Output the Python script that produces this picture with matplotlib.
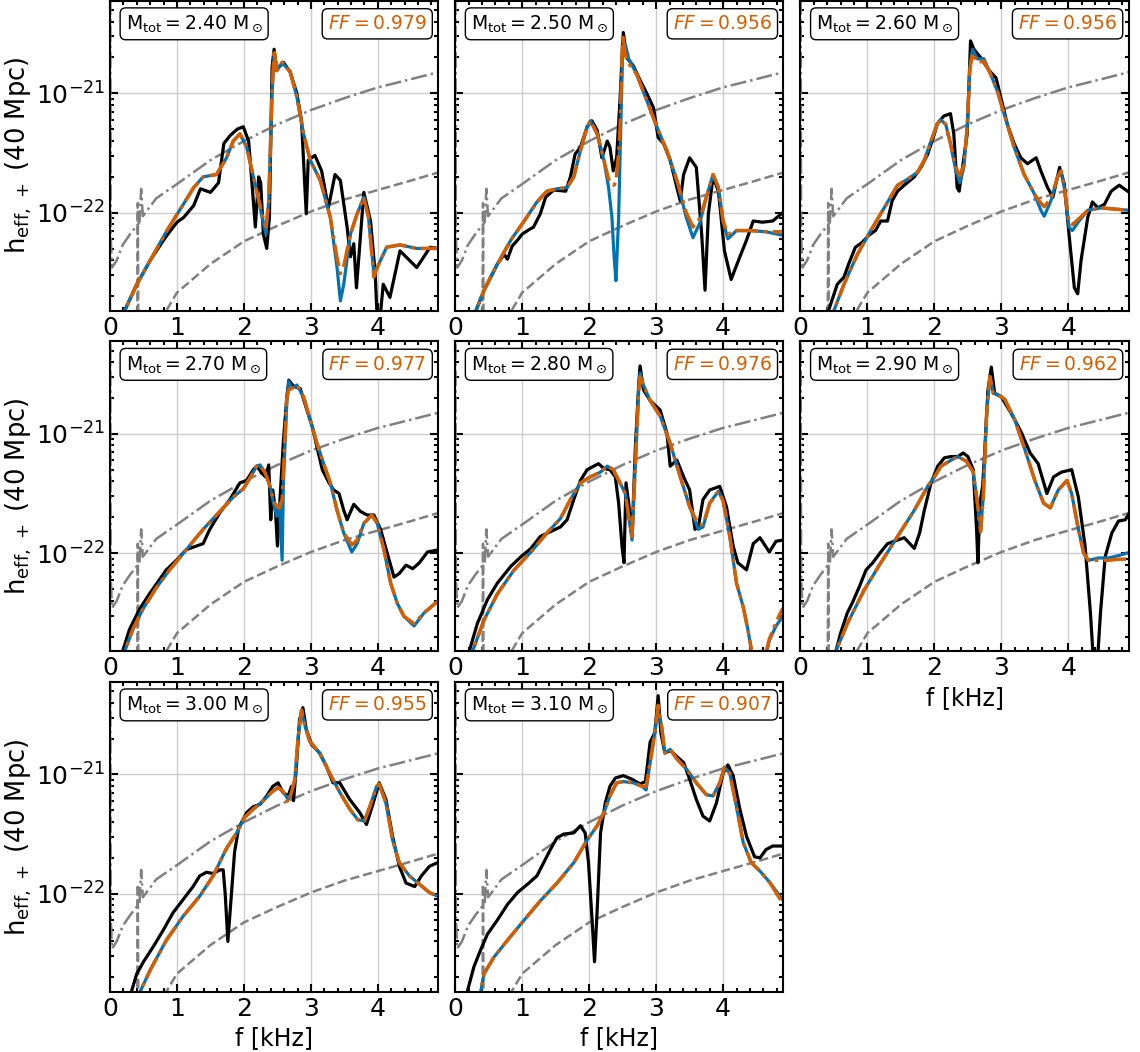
import numpy as np
import matplotlib.pyplot as plt
from matplotlib.ticker import MultipleLocator, LogLocator, NullFormatter, FixedLocator

plt.rcParams['mathtext.fontset'] = 'dejavusans'
plt.rcParams['font.family'] = ['DejaVu Sans']

# masas totales y fitting factors de cada panel
masas = [2.40, 2.50, 2.60, 2.70, 2.80, 2.90, 3.00, 3.10]
ff = [0.979, 0.956, 0.956, 0.977, 0.976, 0.962, 0.955, 0.907]

# curvas de sensibilidad (log10 h), iguales en todos los paneles
f_sens_a = [0.002, 0.01, 0.03, 0.10, 0.19, 0.30, 0.44, 0.465, 0.49, 0.69, 1.0, 1.5, 2.0, 2.5, 3.0, 3.5, 4.0, 4.5, 4.92]
lh_sens_a = [-19.8, -22.2, -22.46, -22.40, -22.27, -22.18, -22.08, -21.80, -22.03, -21.88, -21.76, -21.56, -21.40,
             -21.26, -21.14, -21.04, -20.95, -20.88, -20.82]
f_sens_b = [0.2, 0.405, 0.415, 0.425, 0.6, 0.82, 1.0, 1.5, 2.0, 2.5, 3.0, 3.5, 4.0, 4.5, 4.92]
lh_sens_b = [-23.5, -23.2, -21.92, -23.2, -23.05, -22.84, -22.67, -22.43, -22.24, -22.11, -21.99, -21.89, -21.81,
             -21.73, -21.66]

# ---------- panel 1: 2.40 ----------
bk_f1 = [0.15, 0.22, 0.40, 0.60, 0.80, 0.85, 1.00, 1.10, 1.25, 1.35, 1.50, 1.62, 1.70, 1.80, 1.90, 1.99, 2.07, 2.14,
         2.17, 2.22, 2.25, 2.29, 2.34, 2.38, 2.42, 2.45, 2.49, 2.59, 2.69, 2.79, 2.86, 2.93, 2.96, 3.06, 3.16, 3.26,
         3.36, 3.44, 3.54, 3.59, 3.64, 3.68, 3.79, 3.89, 3.96, 3.99, 4.03, 4.08, 4.18, 4.33, 4.58, 4.78, 4.90]
bk_h1 = [-23.0, -22.82, -22.60, -22.40, -22.23, -22.19, -22.08, -22.04, -21.94, -21.80, -21.83, -21.75, -21.42, -21.35,
         -21.30, -21.28, -21.40, -21.90, -22.12, -21.70, -21.75, -22.18, -22.30, -22.04, -20.78, -20.63, -20.80, -20.74,
         -20.82, -21.00, -21.23, -22.01, -21.56, -21.52, -21.65, -21.96, -21.68, -21.73, -22.12, -22.37, -22.26, -22.63,
         -21.83, -22.07, -22.51, -22.9, -22.9, -22.60, -22.71, -22.32, -22.46, -22.29, -22.30]
bl_f1 = [0.15, 0.22, 0.40, 0.65, 0.85, 1.05, 1.25, 1.39, 1.59, 1.74, 1.84, 1.94, 2.04, 2.19, 2.29, 2.33, 2.37, 2.42,
         2.45, 2.49, 2.57, 2.69, 2.79, 2.89, 2.99, 3.14, 3.29, 3.39, 3.44, 3.49, 3.59, 3.69, 3.79, 3.86, 3.94, 3.99,
         4.13, 4.33, 4.58, 4.90]
bl_h1 = [-23.0, -22.82, -22.60, -22.35, -22.15, -21.97, -21.79, -21.70, -21.68, -21.54, -21.40, -21.34, -21.45, -21.82,
         -22.09, -22.18, -21.90, -21.00, -20.67, -20.81, -20.74, -20.82, -21.03, -21.34, -21.56, -21.73, -22.04, -22.46,
         -22.74, -22.60, -22.18, -22.01, -21.87, -22.04, -22.51, -22.46, -22.29, -22.27, -22.30, -22.30]
or_f1 = bl_f1
or_h1 = [-23.0, -22.82, -22.60, -22.35, -22.15, -21.97, -21.79, -21.70, -21.68, -21.54, -21.40, -21.34, -21.45, -21.82,
         -22.05, -22.12, -21.90, -21.00, -20.63, -20.81, -20.74, -20.82, -21.03, -21.34, -21.56, -21.73, -22.04, -22.38,
         -22.51, -22.45, -22.18, -22.01, -21.87, -22.04, -22.54, -22.46, -22.29, -22.27, -22.30, -22.30]

# ---------- panel 2: 2.50 ----------
bk_f2 = [0.25, 0.31, 0.43, 0.63, 0.73, 0.78, 0.85, 0.93, 1.00, 1.08, 1.17, 1.27, 1.35, 1.47, 1.65, 1.72, 1.79, 1.87,
         1.97, 2.04, 2.12, 2.19, 2.27, 2.31, 2.36, 2.41, 2.46, 2.51, 2.56, 2.66, 2.76, 2.86, 2.96, 3.03, 3.11, 3.21,
         3.31, 3.36, 3.41, 3.50, 3.60, 3.68, 3.73, 3.78, 3.85, 3.93, 4.02, 4.12, 4.25, 4.35, 4.45, 4.59, 4.74, 4.89]
bk_h2 = [-23.0, -22.82, -22.65, -22.43, -22.35, -22.39, -22.28, -22.23, -22.18, -22.15, -22.12, -22.01, -21.87, -21.81,
         -21.82, -21.70, -21.51, -21.45, -21.28, -21.23, -21.31, -21.54, -21.40, -21.45, -21.65, -21.54, -21.06, -20.49,
         -20.70, -20.77, -20.89, -21.00, -21.12, -21.37, -21.42, -21.56, -21.79, -21.90, -21.68, -21.54, -21.62, -22.18,
         -22.65, -22.01, -21.70, -21.82, -22.32, -22.56, -22.37, -22.23, -22.07, -22.08, -22.07, -22.00]
bl_f2 = [0.25, 0.31, 0.43, 0.63, 0.83, 1.03, 1.22, 1.37, 1.52, 1.67, 1.77, 1.87, 1.97, 2.02, 2.12, 2.22, 2.29, 2.34,
         2.37, 2.40, 2.44, 2.46, 2.50, 2.54, 2.59, 2.71, 2.86, 3.01, 3.16, 3.31, 3.45, 3.55, 3.65, 3.75, 3.85, 3.93,
         4.00, 4.07, 4.20, 4.40, 4.64, 4.89]
bl_h2 = [-23.0, -22.82, -22.65, -22.43, -22.23, -22.07, -21.91, -21.82, -21.80, -21.79, -21.70, -21.48, -21.28, -21.23,
         -21.34, -21.56, -21.79, -22.04, -22.35, -22.57, -22.04, -21.56, -20.64, -20.59, -20.71, -20.84, -21.06, -21.28,
         -21.48, -21.73, -22.04, -22.21, -22.09, -21.87, -21.68, -21.79, -22.07, -22.22, -22.15, -22.15, -22.16, -22.19]
or_f2 = bl_f2
or_h2 = [-23.0, -22.82, -22.65, -22.43, -22.23, -22.07, -21.91, -21.82, -21.80, -21.79, -21.70, -21.48, -21.28, -21.23,
         -21.34, -21.56, -21.72, -21.74, -21.77, -21.74, -21.50, -21.30, -20.50, -20.68, -20.75, -20.84, -21.06, -21.28,
         -21.48, -21.73, -22.00, -22.12, -22.05, -21.87, -21.68, -21.79, -22.07, -22.18, -22.15, -22.15, -22.16, -22.16]

# ---------- panel 3: 2.60 ----------
bk_f3 = [0.38, 0.42, 0.55, 0.65, 0.72, 0.82, 0.92, 1.02, 1.12, 1.20, 1.30, 1.37, 1.45, 1.55, 1.70, 1.80, 1.90, 2.00,
         2.04, 2.14, 2.24, 2.29, 2.34, 2.37, 2.42, 2.49, 2.54, 2.59, 2.69, 2.82, 2.92, 2.99, 3.09, 3.19, 3.29, 3.39,
         3.52, 3.59, 3.69, 3.77, 3.87, 3.94, 4.01, 4.09, 4.14, 4.19, 4.29, 4.36, 4.44, 4.54, 4.64, 4.76, 4.91]
bk_h3 = [-23.0, -22.82, -22.60, -22.54, -22.43, -22.29, -22.25, -22.19, -22.15, -22.07, -22.07, -21.90, -21.82, -21.77,
         -21.70, -21.62, -21.51, -21.34, -21.26, -21.19, -21.17, -21.34, -21.79, -21.82, -21.62, -21.34, -20.56, -20.63,
         -20.70, -20.81, -20.87, -21.03, -21.26, -21.42, -21.54, -21.59, -21.54, -21.65, -21.79, -21.87, -21.62, -21.76,
         -22.18, -22.63, -22.68, -22.40, -22.04, -21.91, -21.96, -21.93, -21.82, -21.77, -21.83]
bl_f3 = [0.45, 0.50, 0.65, 0.85, 1.05, 1.25, 1.45, 1.60, 1.75, 1.85, 1.95, 2.04, 2.09, 2.17, 2.24, 2.32, 2.38, 2.44,
         2.49, 2.53, 2.57, 2.64, 2.74, 2.84, 2.94, 3.04, 3.19, 3.34, 3.49, 3.59, 3.64, 3.74, 3.84, 3.89, 3.94, 4.01,
         4.06, 4.16, 4.29, 4.49, 4.69, 4.91]
bl_h3 = [-23.0, -22.82, -22.60, -22.35, -22.15, -21.96, -21.77, -21.72, -21.66, -21.56, -21.40, -21.26, -21.22, -21.26,
         -21.42, -21.65, -21.75, -21.62, -21.28, -20.78, -20.63, -20.71, -20.71, -20.84, -20.98, -21.17, -21.45, -21.68,
         -21.84, -21.98, -22.03, -21.90, -21.70, -21.65, -21.79, -22.12, -22.15, -22.07, -21.98, -21.96, -21.97, -21.98]
or_f3 = bl_f3
or_h3 = [-23.0, -22.82, -22.60, -22.35, -22.15, -21.96, -21.77, -21.72, -21.66, -21.56, -21.40, -21.26, -21.22, -21.26,
         -21.42, -21.62, -21.69, -21.60, -21.28, -20.80, -20.66, -20.74, -20.73, -20.84, -20.98, -21.17, -21.45, -21.68,
         -21.84, -21.92, -21.95, -21.88, -21.70, -21.65, -21.79, -22.08, -22.10, -22.05, -21.98, -21.96, -21.97, -21.98]

# ---------- panel 4: 2.70 ----------
bk_f4 = [0.14, 0.19, 0.29, 0.44, 0.59, 0.74, 0.84, 0.99, 1.14, 1.29, 1.39, 1.49, 1.64, 1.79, 1.94, 2.04, 2.14, 2.19,
         2.27, 2.32, 2.37, 2.40, 2.43, 2.47, 2.50, 2.54, 2.59, 2.64, 2.67, 2.74, 2.84, 2.94, 3.02, 3.09, 3.17, 3.27,
         3.34, 3.42, 3.49, 3.54, 3.64, 3.74, 3.84, 3.94, 4.04, 4.14, 4.24, 4.32, 4.42, 4.52, 4.62, 4.74, 4.92]
bk_h4 = [-23.0, -22.82, -22.64, -22.47, -22.34, -22.22, -22.14, -22.06, -21.97, -21.94, -21.92, -21.80, -21.66, -21.55,
         -21.41, -21.39, -21.30, -21.27, -21.33, -21.36, -21.26, -21.72, -21.47, -21.64, -21.94, -21.53, -21.05, -20.69,
         -20.55, -20.60, -20.62, -20.80, -20.94, -21.11, -21.30, -21.41, -21.47, -21.50, -21.64, -21.72, -21.59, -21.65,
         -21.68, -21.68, -21.80, -22.00, -22.20, -22.17, -22.10, -22.13, -22.08, -21.99, -21.97]
bl_f4 = [0.17, 0.22, 0.34, 0.49, 0.69, 0.89, 1.14, 1.39, 1.64, 1.84, 1.99, 2.09, 2.19, 2.24, 2.32, 2.39, 2.44, 2.49,
         2.53, 2.57, 2.59, 2.64, 2.67, 2.71, 2.79, 2.89, 2.99, 3.09, 3.19, 3.29, 3.39, 3.49, 3.61, 3.69, 3.79, 3.91,
         3.99, 4.09, 4.19, 4.29, 4.39, 4.54, 4.69, 4.92]
bl_h4 = [-23.0, -22.82, -22.64, -22.47, -22.29, -22.14, -21.97, -21.80, -21.65, -21.53, -21.46, -21.37, -21.27, -21.26,
         -21.33, -21.44, -21.58, -21.69, -21.58, -22.06, -21.39, -20.74, -20.56, -20.62, -20.59, -20.69, -20.88, -21.08,
         -21.25, -21.41, -21.64, -21.83, -21.99, -21.92, -21.75, -21.68, -21.75, -21.97, -22.25, -22.42, -22.53, -22.61,
         -22.50, -22.39]
or_f4 = bl_f4
or_h4 = [-23.0, -22.82, -22.64, -22.47, -22.29, -22.14, -21.97, -21.80, -21.65, -21.53, -21.46, -21.37, -21.27, -21.26,
         -21.33, -21.44, -21.56, -21.61, -21.62, -21.55, -21.30, -20.70, -20.63, -20.62, -20.59, -20.69, -20.88, -21.08,
         -21.25, -21.41, -21.64, -21.83, -21.93, -21.89, -21.75, -21.68, -21.75, -21.97, -22.25, -22.42, -22.53, -22.59,
         -22.50, -22.39]

# ---------- panel 5: 2.80 ----------
bk_f5 = [0.16, 0.21, 0.33, 0.48, 0.63, 0.73, 0.83, 0.98, 1.13, 1.27, 1.42, 1.57, 1.67, 1.77, 1.87, 1.97, 2.07, 2.14,
         2.22, 2.31, 2.39, 2.44, 2.49, 2.52, 2.55, 2.59, 2.64, 2.69, 2.74, 2.76, 2.81, 2.91, 3.06, 3.16, 3.21, 3.31,
         3.41, 3.50, 3.58, 3.63, 3.70, 3.80, 3.95, 4.05, 4.15, 4.22, 4.35, 4.45, 4.55, 4.69, 4.79, 4.89]
bk_h5 = [-23.0, -22.82, -22.59, -22.39, -22.25, -22.18, -22.11, -22.03, -21.96, -21.86, -21.82, -21.78, -21.72, -21.55,
         -21.39, -21.30, -21.27, -21.25, -21.29, -21.30, -21.36, -21.58, -21.94, -22.08, -21.41, -21.58, -21.86, -21.11,
         -20.58, -20.43, -20.63, -20.72, -20.80, -20.99, -21.27, -21.22, -21.36, -21.47, -21.80, -21.78, -21.55, -21.47,
         -21.44, -21.61, -21.94, -22.08, -22.14, -21.92, -21.87, -21.99, -21.90, -21.89]
bl_f5 = [0.21, 0.26, 0.43, 0.63, 0.88, 1.13, 1.37, 1.57, 1.72, 1.87, 2.02, 2.17, 2.27, 2.36, 2.46, 2.54, 2.59, 2.64,
         2.69, 2.74, 2.76, 2.81, 2.91, 3.06, 3.21, 3.36, 3.50, 3.63, 3.70, 3.80, 3.93, 4.00, 4.10, 4.20, 4.30, 4.37,
         4.45, 4.62, 4.69, 4.79, 4.89]
bl_h5 = [-23.0, -22.82, -22.56, -22.34, -22.14, -21.99, -21.83, -21.71, -21.55, -21.41, -21.36, -21.32, -21.27, -21.30,
         -21.41, -21.50, -21.69, -21.89, -21.25, -20.63, -20.49, -20.59, -20.72, -20.85, -21.08, -21.36, -21.61, -21.80,
         -21.78, -21.58, -21.48, -21.56, -21.86, -22.25, -22.45, -22.64, -22.9, -22.9, -22.73, -22.61, -22.53]
or_f5 = bl_f5
or_h5 = [-23.0, -22.82, -22.56, -22.34, -22.14, -21.99, -21.83, -21.71, -21.55, -21.41, -21.36, -21.32, -21.27, -21.30,
         -21.41, -21.50, -21.69, -21.86, -21.25, -20.63, -20.52, -20.59, -20.72, -20.85, -21.08, -21.36, -21.61, -21.76,
         -21.76, -21.58, -21.48, -21.56, -21.86, -22.25, -22.45, -22.64, -22.9, -22.88, -22.72, -22.58, -22.46]

# ---------- panel 6: 2.90 ----------
bk_f6 = [0.48, 0.53, 0.60, 0.70, 0.78, 0.88, 0.98, 1.08, 1.20, 1.30, 1.40, 1.55, 1.65, 1.70, 1.78, 1.85, 1.95, 2.05,
         2.15, 2.25, 2.35, 2.43, 2.50, 2.58, 2.63, 2.65, 2.68, 2.72, 2.75, 2.80, 2.85, 2.90, 3.00, 3.15, 3.30, 3.43,
         3.55, 3.68, 3.78, 3.90, 4.05, 4.15, 4.25, 4.33, 4.38, 4.43, 4.48, 4.55, 4.65, 4.75, 4.85, 4.93]
bk_h6 = [-23.0, -22.82, -22.67, -22.50, -22.41, -22.28, -22.14, -22.08, -21.99, -21.92, -21.90, -21.87, -21.93, -21.96,
         -21.83, -21.64, -21.41, -21.27, -21.20, -21.19, -21.19, -21.16, -21.19, -21.30, -21.80, -22.08, -21.58, -21.44,
         -21.16, -20.63, -20.44, -20.66, -20.69, -20.83, -20.99, -21.16, -21.25, -21.50, -21.36, -21.32, -21.30, -21.53,
         -21.94, -22.50, -22.95, -22.95, -22.50, -22.03, -21.83, -21.73, -21.72, -21.65]
bl_f6 = [0.48, 0.53, 0.70, 0.95, 1.20, 1.45, 1.70, 1.90, 2.00, 2.10, 2.25, 2.35, 2.48, 2.58, 2.65, 2.69, 2.73, 2.78,
         2.83, 2.88, 2.95, 3.05, 3.20, 3.35, 3.50, 3.63, 3.73, 3.85, 3.98, 4.05, 4.15, 4.23, 4.30, 4.45, 4.60, 4.75,
         4.93]
bl_h6 = [-23.0, -22.82, -22.59, -22.31, -22.08, -21.86, -21.64, -21.44, -21.36, -21.27, -21.22, -21.19, -21.23, -21.32,
         -21.61, -21.80, -21.53, -20.83, -20.52, -20.66, -20.67, -20.71, -20.88, -21.13, -21.39, -21.58, -21.62, -21.47,
         -21.39, -21.50, -21.80, -22.00, -22.06, -22.04, -22.04, -22.02, -21.99]
or_f6 = bl_f6
or_h6 = [-23.0, -22.82, -22.59, -22.31, -22.08, -21.86, -21.64, -21.44, -21.36, -21.27, -21.22, -21.19, -21.23, -21.32,
         -21.61, -21.82, -21.53, -20.83, -20.52, -20.66, -20.67, -20.71, -20.88, -21.13, -21.39, -21.58, -21.62, -21.47,
         -21.39, -21.50, -21.80, -22.00, -22.06, -22.06, -22.06, -22.05, -22.05]

# ---------- panel 7: 3.00 ----------
bk_f7 = [0.27, 0.32, 0.40, 0.50, 0.65, 0.80, 0.94, 1.09, 1.24, 1.34, 1.44, 1.54, 1.64, 1.69, 1.72, 1.76, 1.80, 1.86,
         1.92, 2.04, 2.14, 2.24, 2.34, 2.43, 2.51, 2.58, 2.66, 2.71, 2.74, 2.78, 2.83, 2.88, 2.93, 3.01, 3.13, 3.23,
         3.33, 3.43, 3.58, 3.73, 3.83, 3.93, 4.02, 4.12, 4.22, 4.32, 4.42, 4.55, 4.65, 4.77, 4.89]
bk_h7 = [-23.0, -22.82, -22.67, -22.57, -22.44, -22.30, -22.16, -22.05, -21.94, -21.85, -21.82, -21.83, -21.80, -21.80,
         -22.00, -22.40, -22.10, -21.65, -21.45, -21.32, -21.27, -21.25, -21.18, -21.10, -21.07, -21.15, -21.18, -21.10,
         -21.22, -20.96, -20.54, -20.44, -20.62, -20.75, -20.82, -20.93, -21.07, -21.07, -21.21, -21.32, -21.42, -21.24,
         -21.07, -21.21, -21.52, -21.77, -21.91, -21.94, -21.85, -21.77, -21.74]
bl_f7 = [0.40, 0.45, 0.60, 0.84, 1.09, 1.34, 1.54, 1.74, 1.89, 2.01, 2.14, 2.29, 2.41, 2.51, 2.58, 2.66, 2.71, 2.76,
         2.81, 2.86, 2.91, 2.98, 3.13, 3.28, 3.43, 3.58, 3.70, 3.80, 3.88, 3.98, 4.02, 4.12, 4.22, 4.32, 4.47, 4.62,
         4.77, 4.89]
bl_h7 = [-23.0, -22.82, -22.64, -22.39, -22.19, -22.02, -21.85, -21.62, -21.49, -21.36, -21.29, -21.22, -21.15, -21.11,
         -21.14, -21.21, -21.15, -21.04, -20.68, -20.47, -20.59, -20.72, -20.82, -20.99, -21.15, -21.29, -21.38, -21.39,
         -21.27, -21.10, -21.08, -21.24, -21.55, -21.74, -21.85, -21.92, -21.99, -22.02]
or_f7 = bl_f7
or_h7 = [-23.0, -22.82, -22.64, -22.39, -22.19, -22.02, -21.85, -21.62, -21.49, -21.36, -21.29, -21.22, -21.15, -21.11,
         -21.14, -21.24, -21.15, -21.04, -20.68, -20.46, -20.59, -20.72, -20.82, -20.99, -21.15, -21.29, -21.38, -21.39,
         -21.27, -21.10, -21.08, -21.24, -21.55, -21.74, -21.85, -21.92, -21.99, -22.02]

# ---------- panel 8: 3.10 ----------
bk_f8 = [0.13, 0.18, 0.28, 0.38, 0.48, 0.63, 0.78, 0.93, 1.08, 1.22, 1.32, 1.42, 1.52, 1.62, 1.77, 1.87, 1.94, 1.99,
         2.04, 2.08, 2.12, 2.17, 2.24, 2.31, 2.39, 2.51, 2.64, 2.76, 2.84, 2.91, 2.98, 3.03, 3.07, 3.13, 3.21, 3.31,
         3.41, 3.50, 3.60, 3.70, 3.80, 3.90, 4.00, 4.07, 4.15, 4.25, 4.35, 4.47, 4.55, 4.64, 4.74, 4.89]
bk_h8 = [-23.0, -22.82, -22.61, -22.47, -22.34, -22.22, -22.09, -21.99, -21.92, -21.85, -21.74, -21.63, -21.53, -21.50,
         -21.49, -21.43, -21.49, -21.74, -22.19, -22.57, -22.13, -21.49, -21.24, -21.10, -21.03, -21.01, -21.04, -21.08,
         -21.06, -20.73, -20.65, -20.34, -20.65, -20.82, -20.80, -20.85, -20.90, -21.04, -21.21, -21.35, -21.39, -21.24,
         -20.99, -20.92, -21.01, -21.29, -21.52, -21.69, -21.70, -21.63, -21.60, -21.60]
bl_f8 = [0.33, 0.38, 0.43, 0.58, 0.78, 1.03, 1.27, 1.52, 1.77, 1.97, 2.12, 2.22, 2.31, 2.41, 2.51, 2.66, 2.79, 2.85,
         2.91, 2.98, 3.03, 3.08, 3.13, 3.21, 3.31, 3.46, 3.60, 3.75, 3.85, 3.95, 4.02, 4.10, 4.20, 4.30, 4.42, 4.55,
         4.69, 4.89]
bl_h8 = [-23.0, -22.82, -22.67, -22.53, -22.39, -22.22, -22.06, -21.91, -21.74, -21.55, -21.43, -21.32, -21.18, -21.07,
         -21.06, -21.07, -21.10, -21.13, -20.90, -20.65, -20.45, -20.59, -20.82, -20.79, -20.87, -20.96, -21.07, -21.17,
         -21.18, -21.07, -20.94, -20.99, -21.27, -21.57, -21.74, -21.81, -21.90, -22.05]
or_f8 = bl_f8
or_h8 = [-23.0, -22.82, -22.67, -22.53, -22.39, -22.22, -22.06, -21.91, -21.74, -21.55, -21.43, -21.32, -21.18, -21.07,
         -21.06, -21.07, -21.10, -21.10, -20.90, -20.65, -20.42, -20.59, -20.82, -20.79, -20.87, -20.96, -21.07, -21.17,
         -21.18, -21.07, -20.94, -20.99, -21.27, -21.57, -21.74, -21.81, -21.90, -22.08]

negro = [(bk_f1, bk_h1), (bk_f2, bk_h2), (bk_f3, bk_h3), (bk_f4, bk_h4),
         (bk_f5, bk_h5), (bk_f6, bk_h6), (bk_f7, bk_h7), (bk_f8, bk_h8)]
azul = [(bl_f1, bl_h1), (bl_f2, bl_h2), (bl_f3, bl_h3), (bl_f4, bl_h4),
        (bl_f5, bl_h5), (bl_f6, bl_h6), (bl_f7, bl_h7), (bl_f8, bl_h8)]
naranja = [(or_f1, or_h1), (or_f2, or_h2), (or_f3, or_h3), (or_f4, or_h4),
           (or_f5, or_h5), (or_f6, or_h6), (or_f7, or_h7), (or_f8, or_h8)]

AZUL = '#0173B2'
NARANJA = '#D55E00'
GRIS = '#808080'

fig, axes = plt.subplots(3, 3, figsize=(11.4, 10.52), dpi=100)
fig.subplots_adjust(left=0.0965, right=0.990, top=0.9995, bottom=0.057, wspace=0.052, hspace=0.097)

for i, ax in enumerate(axes.flat):
    if i >= 8:
        ax.axis('off')
        continue

    ax.plot(f_sens_a, 10 ** np.array(lh_sens_a), '-.', color=GRIS, lw=1.8)
    ax.plot(f_sens_b, 10 ** np.array(lh_sens_b), '--', color=GRIS, lw=1.8)

    f, h = negro[i]
    ax.plot(f, 10 ** np.array(h), '-', color='black', lw=2.3)
    f, h = azul[i]
    ax.plot(f, 10 ** np.array(h), '-', color=AZUL, lw=2.3)
    f, h = naranja[i]
    ax.plot(f, 10 ** np.array(h), '-.', color=NARANJA, lw=2.5)

    ax.set_yscale('log')
    ax.set_xlim(0, 4.9)
    ax.set_ylim(1.5e-23, 6e-21)

    ax.xaxis.set_major_locator(MultipleLocator(1))
    ax.xaxis.set_minor_locator(MultipleLocator(0.2))
    ax.yaxis.set_major_locator(FixedLocator([1e-22, 1e-21]))
    ax.yaxis.set_minor_locator(LogLocator(base=10, subs=np.arange(2, 10)))
    ax.yaxis.set_minor_formatter(NullFormatter())

    ax.tick_params(which='both', direction='in', top=True, right=True, width=1.5, labelsize=18)
    ax.tick_params(which='major', length=6)
    ax.tick_params(which='minor', length=3)
    for sp in ax.spines.values():
        sp.set_linewidth(1.5)

    ax.grid(True, which='major', color='#cccccc', lw=1)
    ax.set_axisbelow(True)

    if i % 3 != 0:
        ax.tick_params(labelleft=False)
    else:
        ax.set_ylabel(r'$\mathrm{h_{eff,\,+}}\ (40\ \mathrm{Mpc})$', fontsize=18.5, labelpad=1)

    if i >= 5:
        ax.set_xlabel('f [kHz]', fontsize=17)

    ax.text(0.048, 0.925, r'$\mathrm{M_{tot}} = %.2f\ \mathrm{M_\odot}$' % masas[i],
            transform=ax.transAxes, fontsize=13.5, ha='left', va='center',
            bbox=dict(boxstyle='round,pad=0.3', fc='white', ec='black', lw=1))
    ax.text(0.965, 0.925, r'$FF = %.3f$' % ff[i], color=NARANJA,
            transform=ax.transAxes, fontsize=13.5, ha='right', va='center',
            bbox=dict(boxstyle='round,pad=0.3', fc='white', ec='black', lw=1))

fig.savefig('out.png', dpi=100)
